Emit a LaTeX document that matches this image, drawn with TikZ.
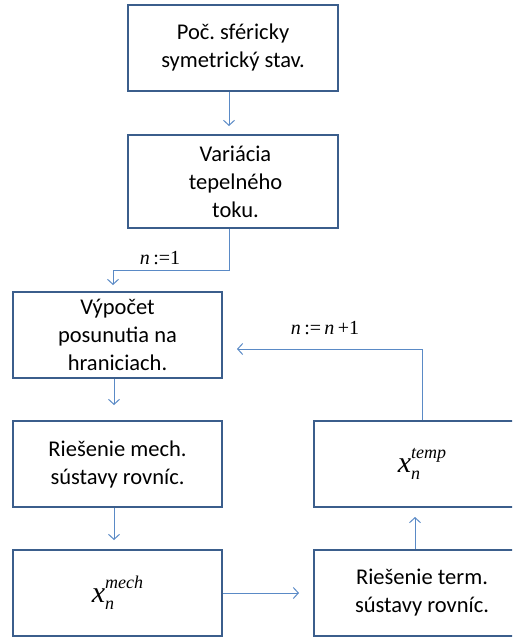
\documentclass[tikz,border=0pt]{standalone}
\usepackage{fontspec}
\setmainfont{Carlito}
\newfontfamily\tms{Liberation Serif}
\usetikzlibrary{arrows.meta}
\definecolor{boxc}{HTML}{3B5E8C}
\definecolor{arrc}{HTML}{5A8AC6}
\frenchspacing
\newcommand{\xvar}[2]{{\tms\itshape\fontsize{30}{30}\selectfont x}\rlap{\raisebox{-7pt}{\tms\itshape\fontsize{18}{18}\selectfont #2}}\raisebox{14pt}{\tms\itshape\fontsize{18}{18}\selectfont #1}}
\begin{document}
\begin{tikzpicture}[x=1pt,y=-1pt,
  box/.style={draw=boxc, line width=2pt, fill=white, align=center, inner sep=0pt,
    font=\fontsize{22.5}{28}\selectfont, text=black},
  conn/.style={draw=arrc, line width=1pt, -{Straight Barb[length=5pt,width=11pt]}},
  lbl/.style={font=\tms\fontsize{20}{20}\selectfont, inner sep=0pt}]
\useasboundingbox (0,0) rectangle (512,637);
\clip (0,0) rectangle (512,637);
\node[box, minimum width=210pt, minimum height=86pt] (b1) at (233,48) {Poč. sféricky\\symetrický stav.};
\node[box, minimum width=210pt, minimum height=93pt] (b2) at (233,181.5) {\hspace*{5pt}Variácia\\\hspace*{5pt}tepelného\\\hspace*{5pt}toku.};
\node[box, minimum width=209pt, minimum height=86pt] (b3) at (117.5,335) {\raisebox{-5pt}[0pt][0pt]{\parbox{200pt}{\centering Výpočet\\posunutia na\\hraniciach.}}};
\node[box, minimum width=209pt, minimum height=86pt] (b4) at (117.5,464) {Riešenie mech.\\sústavy rovníc.};
\node[box, minimum width=209pt, minimum height=86pt] (b5) at (117.5,593) {\xvar{mech}{n}};
\node[box, minimum width=216pt, minimum height=86pt] (b6) at (422,464) {\xvar{temp}{n}};
\node[box, minimum width=216pt, minimum height=86pt] (b7) at (422,593) {Riešenie term.\\sústavy rovníc.};
\node[lbl] (l1) at (160,258) {\textit{n}\,:=1};
\node[lbl] (l2) at (325,328) {\textit{n}\,:=\,\textit{n}\,+1};
\draw[conn, shorten >=8pt] ([xshift=-4pt]b1.south) -- ([xshift=-4pt]b2.north);
\draw[conn, shorten >=6pt] ([xshift=-4pt]b2.south) -- ++(0,41) -| ([xshift=-4.5pt]b3.north);
\draw[conn, shorten >=15pt] ([xshift=-3.5pt]b3.south) -- ([xshift=-3.5pt]b4.north);
\draw[conn, shorten >=9pt] ([xshift=-3.5pt]b4.south) -- ([xshift=-3.5pt]b5.north);
\draw[conn, shorten >=14pt] (b5.east) -- (b7.west);
\draw[conn, shorten >=9pt] ([xshift=-7pt]b7.north) -- ([xshift=-7pt]b6.south);
\draw[conn, shorten >=14pt] (b6.north) |- ([yshift=-14pt]b3.east);
\end{tikzpicture}
\end{document}
